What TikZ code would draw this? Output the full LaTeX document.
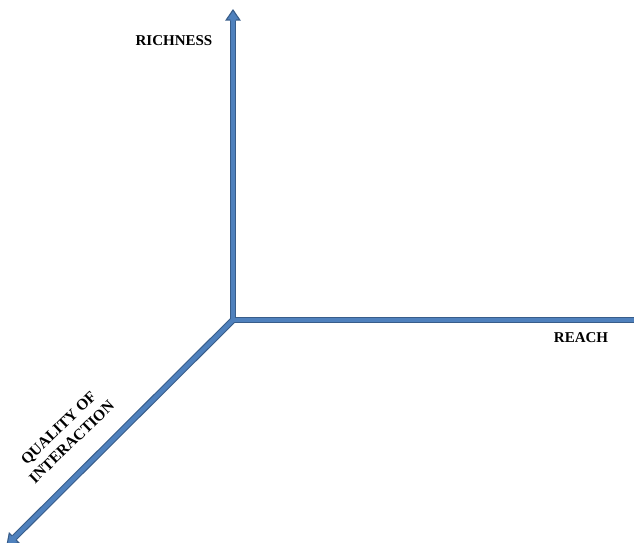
\documentclass[tikz,border=0pt]{standalone}
\usepackage{fontspec}
\setmainfont{Liberation Serif}
\usetikzlibrary{calc}
\definecolor{axisfill}{HTML}{4F81BD}
\definecolor{axisedge}{HTML}{385D8A}
\begin{document}
\begin{tikzpicture}[x=1pt,y=1pt,
  axislabel/.style={font=\bfseries\fontsize{15}{17}\selectfont, text=black, inner sep=0pt},
  shaftedge/.style={draw=axisedge, line width=6.6pt},
  shaftcore/.style={draw=axisfill, line width=4.4pt}]
\useasboundingbox (0,0) rectangle (634,542);
\fill[white] (0,0) rectangle (634,542);

% axis end points
\coordinate (o)    at (233,222);
\coordinate (up)   at (233,532);
\coordinate (east) at (634,222);
\coordinate (sw)   at (7,-3);
\coordinate (upbase) at ($(up)!10pt!(o)$);
\coordinate (swbase) at ($(sw)!10pt!(o)$);

% shafts: dark rim first, then the lighter core on top
\draw[shaftedge, line join=miter] (upbase) -- (o) -- (east);
\draw[shaftedge] ($(o)!-2pt!(swbase)$) -- (swbase);
\draw[shaftcore, line join=miter] (upbase) -- (o) -- (east);
\draw[shaftcore] ($(o)!-2pt!(swbase)$) -- (swbase);

% arrow heads (tip at local origin, pointing along +x)
\foreach \tip/\ang in {up/90, sw/225} {
  \begin{scope}[shift={(\tip)}, rotate=\ang]
    \fill[axisfill] (-10.6,-3.2) -- (-10,-3.2) -- (-10,-6.8) -- (0,0) -- (-10,6.8) -- (-10,3.2) -- (-10.6,3.2) -- cycle;
    \draw[axisedge, line width=1.1pt, line join=miter]
      (-10.6,-3.3) -- (-10,-3.3) -- (-10,-6.8) -- (0,0) -- (-10,6.8) -- (-10,3.3) -- (-10.6,3.3);
  \end{scope}
}

% axis labels
\node[axislabel] (richness) at (174,501) {RICHNESS};
\node[axislabel] (reach) at (581,204) {REACH};
\node[axislabel, font=\bfseries\fontsize{15.5}{19}\selectfont, align=center, rotate=44] (quality) at (65,107) {QUALITY OF\\INTERACTION};
\end{tikzpicture}
\end{document}
